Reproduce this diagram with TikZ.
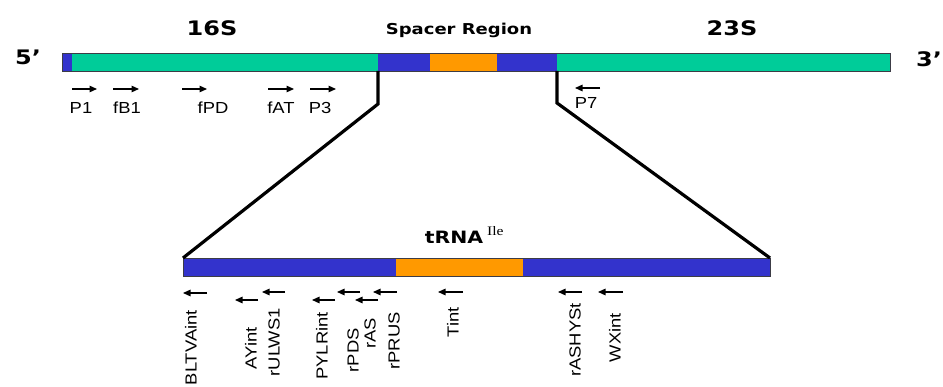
\documentclass[tikz,border=0pt]{standalone}
\usepackage{fontspec}
\setmainfont{Liberation Sans}
\newfontfamily\headfont{DejaVu Sans}
\newfontfamily\supfont{Liberation Serif}
\usetikzlibrary{arrows.meta}

\definecolor{rrnblue}{RGB}{51,51,204}
\definecolor{rrngreen}{RGB}{0,204,153}
\definecolor{rrnorange}{RGB}{255,153,0}
\definecolor{edgegray}{RGB}{60,60,70}

\tikzset{
  seg/.style={inner sep=0pt, outer sep=0pt, minimum height=18pt},
  barline/.style={draw=edgegray, line width=0.7pt, inner sep=0pt, outer sep=0pt, minimum height=18pt},
  conn/.style={line width=3.2pt, line join=miter},
  primer/.style={line width=1.3pt, -{Triangle[length=7.5pt,width=6.5pt]}},
  head/.style={font=\headfont\bfseries\fontsize{20}{24}\selectfont, inner sep=0pt},
  sub/.style={font=\headfont\bfseries\fontsize{15}{18}\selectfont, inner sep=0pt},
  plab/.style={font=\fontsize{16}{18}\selectfont, inner sep=0pt},
  vlab/.style={font=\fontsize{16}{18}\selectfont, inner sep=0pt, rotate=90, anchor=east},
}
\newcommand{\wide}[1]{\scalebox{1.2}[1]{#1}}
\newcommand{\lng}[1]{\scalebox{1.15}[1]{#1}}

\begin{document}
\begin{tikzpicture}[x=1pt, y=-1pt]
\useasboundingbox (0,0) rectangle (943,387);

% ---- rRNA operon: 16S - spacer - 23S ----
\node[seg, fill=rrnblue,   minimum width=10pt]  (t1) at (67,62)    {};
\node[seg, fill=rrngreen,  minimum width=306pt] (t2) at (225,62)   {};
\node[seg, fill=rrnblue,   minimum width=52pt]  (t3) at (404,62)   {};
\node[seg, fill=rrnorange, minimum width=67pt]  (t4) at (463.5,62) {};
\node[seg, fill=rrnblue,   minimum width=60pt]  (t5) at (527,62)   {};
\node[seg, fill=rrngreen,  minimum width=333pt] (t6) at (723.5,62) {};
\node[barline, minimum width=828pt] (topbar) at (476,62) {};

\node[head] (five)  at (28,57)  {\wide{5’}};
\node[head] (three) at (929,59) {\wide{3’}};
\node[head] (s16)   at (212,28) {\wide{16S}};
\node[head] (s23)   at (732,28) {\wide{23S}};
\node[sub]  (spc)   at (459,30) {\wide{Spacer Region}};

% forward primers on 16S
\draw[primer] (72,89)  -- (97,89);
\draw[primer] (113,89) -- (139,89);
\draw[primer] (182,89) -- (207,89);
\draw[primer] (268,89) -- (294,89);
\draw[primer] (310,89) -- (336,89);
\node[plab] (p1)  at (81,108)  {\lng{P1}};
\node[plab] (fb1) at (127,108) {\lng{fB1}};
\node[plab] (fpd) at (213,108) {\lng{fPD}};
\node[plab] (fat) at (281,108) {\lng{fAT}};
\node[plab] (p3)  at (320,108) {\lng{P3}};

% reverse primer on 23S
\draw[primer] (600,88) -- (575,88);
\node[plab] (p7) at (586,103) {\lng{P7}};

% ---- expanded spacer region ----
\node[seg, fill=rrnblue,   minimum width=213pt] (b1) at (289.5,267) {};
\node[seg, fill=rrnorange, minimum width=127pt] (b2) at (459.5,267) {};
\node[seg, fill=rrnblue,   minimum width=247pt] (b3) at (646.5,267) {};
\node[barline, minimum width=587pt] (botbar) at (476.5,267) {};

\draw[conn] (t3.south west) -- ++(0,33) -- (b1.north west);
\draw[conn] (t5.south east) -- ++(0,32) -- (b3.north east);

\node[sub, font=\headfont\bfseries\fontsize{17}{20}\selectfont] (trna) at (454,237) {\wide{tRNA}};
\node[inner sep=0pt, font=\supfont\fontsize{13}{15}\selectfont, anchor=west] (ile) at (487,231) {\wide{Ile}};

% reverse primers in the spacer
\draw[primer] (207,293) -- (183,293);
\draw[primer] (258,300) -- (235,300);
\draw[primer] (285,292) -- (262,292);
\draw[primer] (335,300) -- (312,300);
\draw[primer] (360,292) -- (337,292);
\draw[primer] (378,300) -- (355,300);
\draw[primer] (397,292) -- (373,292);
\draw[primer] (463,292) -- (438,292);
\draw[primer] (582,292) -- (558,292);
\draw[primer] (623,292) -- (598,292);

\node[vlab] (bltv)  at (191,310) {\lng{BLTVAint}};
\node[vlab] (ayint) at (251,327) {\lng{AYint}};
\node[vlab] (rulws) at (274,308) {\lng{rULWS1}};
\node[vlab] (pylr)  at (322,312) {\lng{PYLRint}};
\node[vlab] (rpds)  at (353,328) {\lng{rPDS}};
\node[vlab] (ras)   at (370,318) {\lng{rAS}};
\node[vlab] (rprus) at (394,312) {\lng{rPRUS}};
\node[vlab] (tint)  at (453,307) {\lng{Tint}};
\node[vlab] (rashy) at (575,303) {\lng{rASHYSt}};
\node[vlab] (wxint) at (615,313) {\lng{WXint}};
\end{tikzpicture}
\end{document}
